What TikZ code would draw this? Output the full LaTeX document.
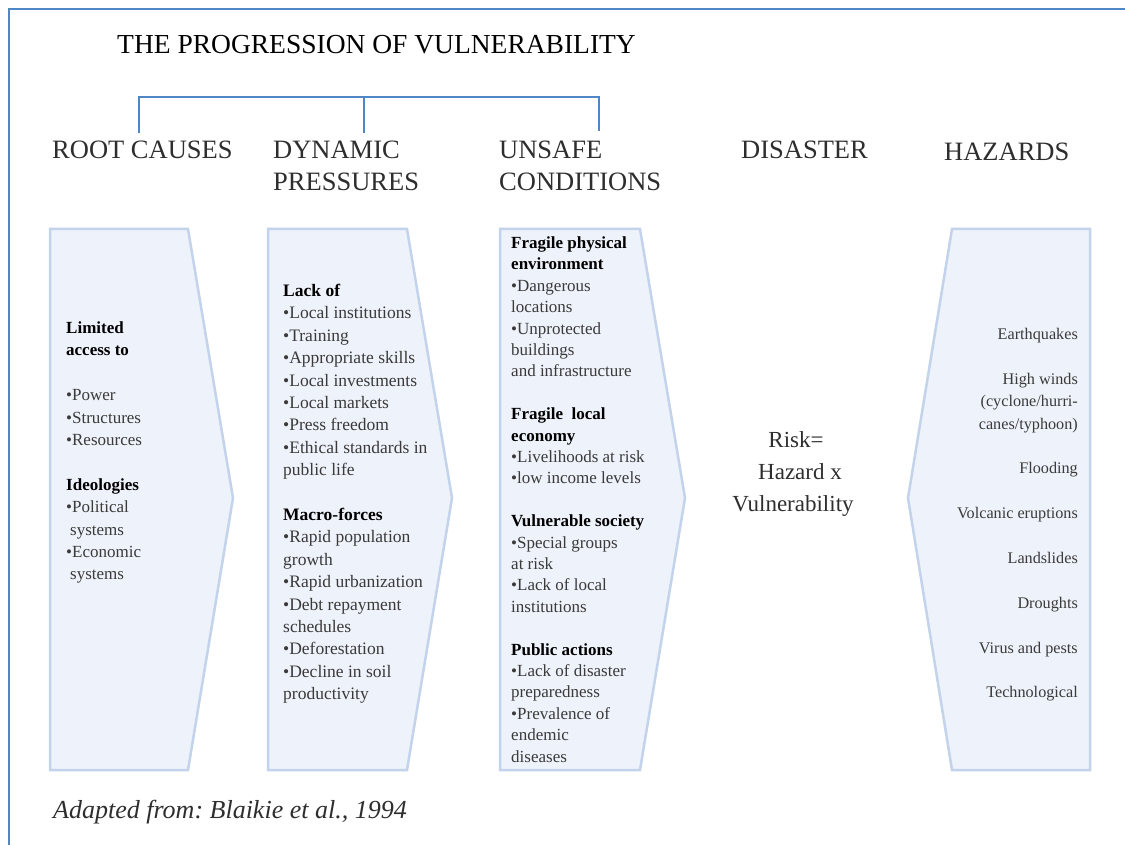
\documentclass[tikz,border=0pt]{standalone}
\usepackage{fontspec}
\setmainfont{Liberation Serif}
\frenchspacing
\definecolor{framecol}{HTML}{4F86C6}
\definecolor{boxfill}{HTML}{EEF2FA}
\definecolor{boxline}{HTML}{C3D3EC}
\definecolor{txt}{HTML}{3A3A3A}
\definecolor{headtxt}{HTML}{2E2E2E}
\newcommand{\bul}{\textbullet}
\newcommand{\hd}[1]{\textcolor{black}{\textbf{#1}}}
\begin{document}
\begin{tikzpicture}[x=1pt,y=-1pt,
  chevron/.style={fill=boxfill,draw=boxline,line width=2.5pt,line join=miter},
  bracketline/.style={draw=framecol,line width=2.5pt},
  framestyle/.style={draw=framecol,line width=2.5pt},
  body/.style={anchor=base west,align=left,inner sep=0,text=txt},
  colhead/.style={anchor=base west,align=left,inner sep=0,text=headtxt,font=\fontsize{26.5}{32}\selectfont},
  haz/.style={anchor=base east,align=right,inner sep=0,text=txt,font=\fontsize{16.2}{22.4}\selectfont},
  risk/.style={anchor=base,inner sep=0,text=headtxt,font=\fontsize{23}{32}\selectfont}]
\useasboundingbox (0,0) rectangle (1125,845);
\fill[white] (0,0) rectangle (1125,845);
% frame
\draw[framestyle] (9,845) -- (9,9) -- (1125,9);
% title
\node[anchor=base west,inner sep=0,text=black,font=\fontsize{27.5}{32}\selectfont] (title) at (117,54) {THE PROGRESSION OF VULNERABILITY};
% column headings (base anchor = last line baseline)
\node[colhead] (hroot) at (52,159) {ROOT CAUSES};
\node[colhead] (hdyn) at (273,191) {DYNAMIC\\PRESSURES};
\node[colhead] (hunsafe) at (499,191) {UNSAFE\\CONDITIONS};
\node[colhead] (hdis) at (741,159) {DISASTER};
\node[colhead] (hhaz) at (944,161) {HAZARDS};
% bracket
\coordinate (bk1) at (139,133);
\coordinate (bk2) at (364,133);
\coordinate (bk3) at (599,131);
\coordinate (bktop1) at (139,97);
\coordinate (bktop2) at (364,97);
\coordinate (bktop3) at (599,97);
\draw[bracketline] (bk1) -- (bktop1) -- (bktop3) -- (bk3);
\draw[bracketline] (bktop2) -- (bk2);
% chevron boxes
\draw[chevron] (50,229) -- (188,229) -- (233,498) -- (188,770) -- (50,770) -- cycle;
\draw[chevron] (268,229) -- (407,229) -- (452,498) -- (407,770) -- (268,770) -- cycle;
\draw[chevron] (500,229) -- (640,229) -- (685,498) -- (640,770) -- (500,770) -- cycle;
\draw[chevron] (952,229) -- (1090,229) -- (1090,770) -- (952,770) -- (908,498) -- cycle;
% box texts (anchored at the baseline of their last line)
\node[body,font=\fontsize{17}{22.4}\selectfont] (root) at (66,579.9) {\hd{Limited}\\\hd{access to}\\\mbox{}\\\bul Power\\\bul Structures\\\bul Resources\\\mbox{}\\\hd{Ideologies}\\\bul Political\\\hspace*{4pt}systems\\\bul Economic\\\hspace*{4pt}systems};
\node[body,font=\fontsize{17.5}{22.4}\selectfont] (dyn) at (283,699.7) {\hd{Lack of}\\\bul Local institutions\\\bul Training\\\bul Appropriate skills\\\bul Local investments\\\bul Local markets\\\bul Press freedom\\\bul Ethical standards in\\public life\\\mbox{}\\\hd{Macro-forces}\\\bul Rapid population\\growth\\\bul Rapid urbanization\\\bul Debt repayment\\schedules\\\bul Deforestation\\\bul Decline in soil\\productivity};
\node[body,font=\fontsize{17}{21.4}\selectfont] (unsafe) at (511,762.1) {\hd{Fragile physical}\\\hd{environment}\\\bul Dangerous\\locations\\\bul Unprotected\\buildings\\and infrastructure\\\mbox{}\\\hd{Fragile\ \ local}\\\hd{economy}\\\bul Livelihoods at risk\\\bul low income levels\\\mbox{}\\\hd{Vulnerable society}\\\bul Special groups\\at risk\\\bul Lack of local\\institutions\\\mbox{}\\\hd{Public actions}\\\bul Lack of disaster\\preparedness\\\bul Prevalence of\\endemic\\diseases};
\node[haz] (hazards) at (1078,697.9) {Earthquakes\\\mbox{}\\High winds\\(cyclone/hurri-\\canes/typhoon)\\\mbox{}\\Flooding\\\mbox{}\\Volcanic eruptions\\\mbox{}\\Landslides\\\mbox{}\\Droughts\\\mbox{}\\Virus and pests\\\mbox{}\\Technological};
% risk formula
\node[risk] (risk1) at (796,447) {Risk=};
\node[risk] (risk2) at (800,479) {Hazard x};
\node[risk] (risk3) at (793,511) {Vulnerability};
% footer
\node[anchor=base west,inner sep=0,text=headtxt,font=\fontsize{26}{30}\selectfont\itshape] (src) at (53,818) {Adapted from: Blaikie et al., 1994};
\end{tikzpicture}
\end{document}
